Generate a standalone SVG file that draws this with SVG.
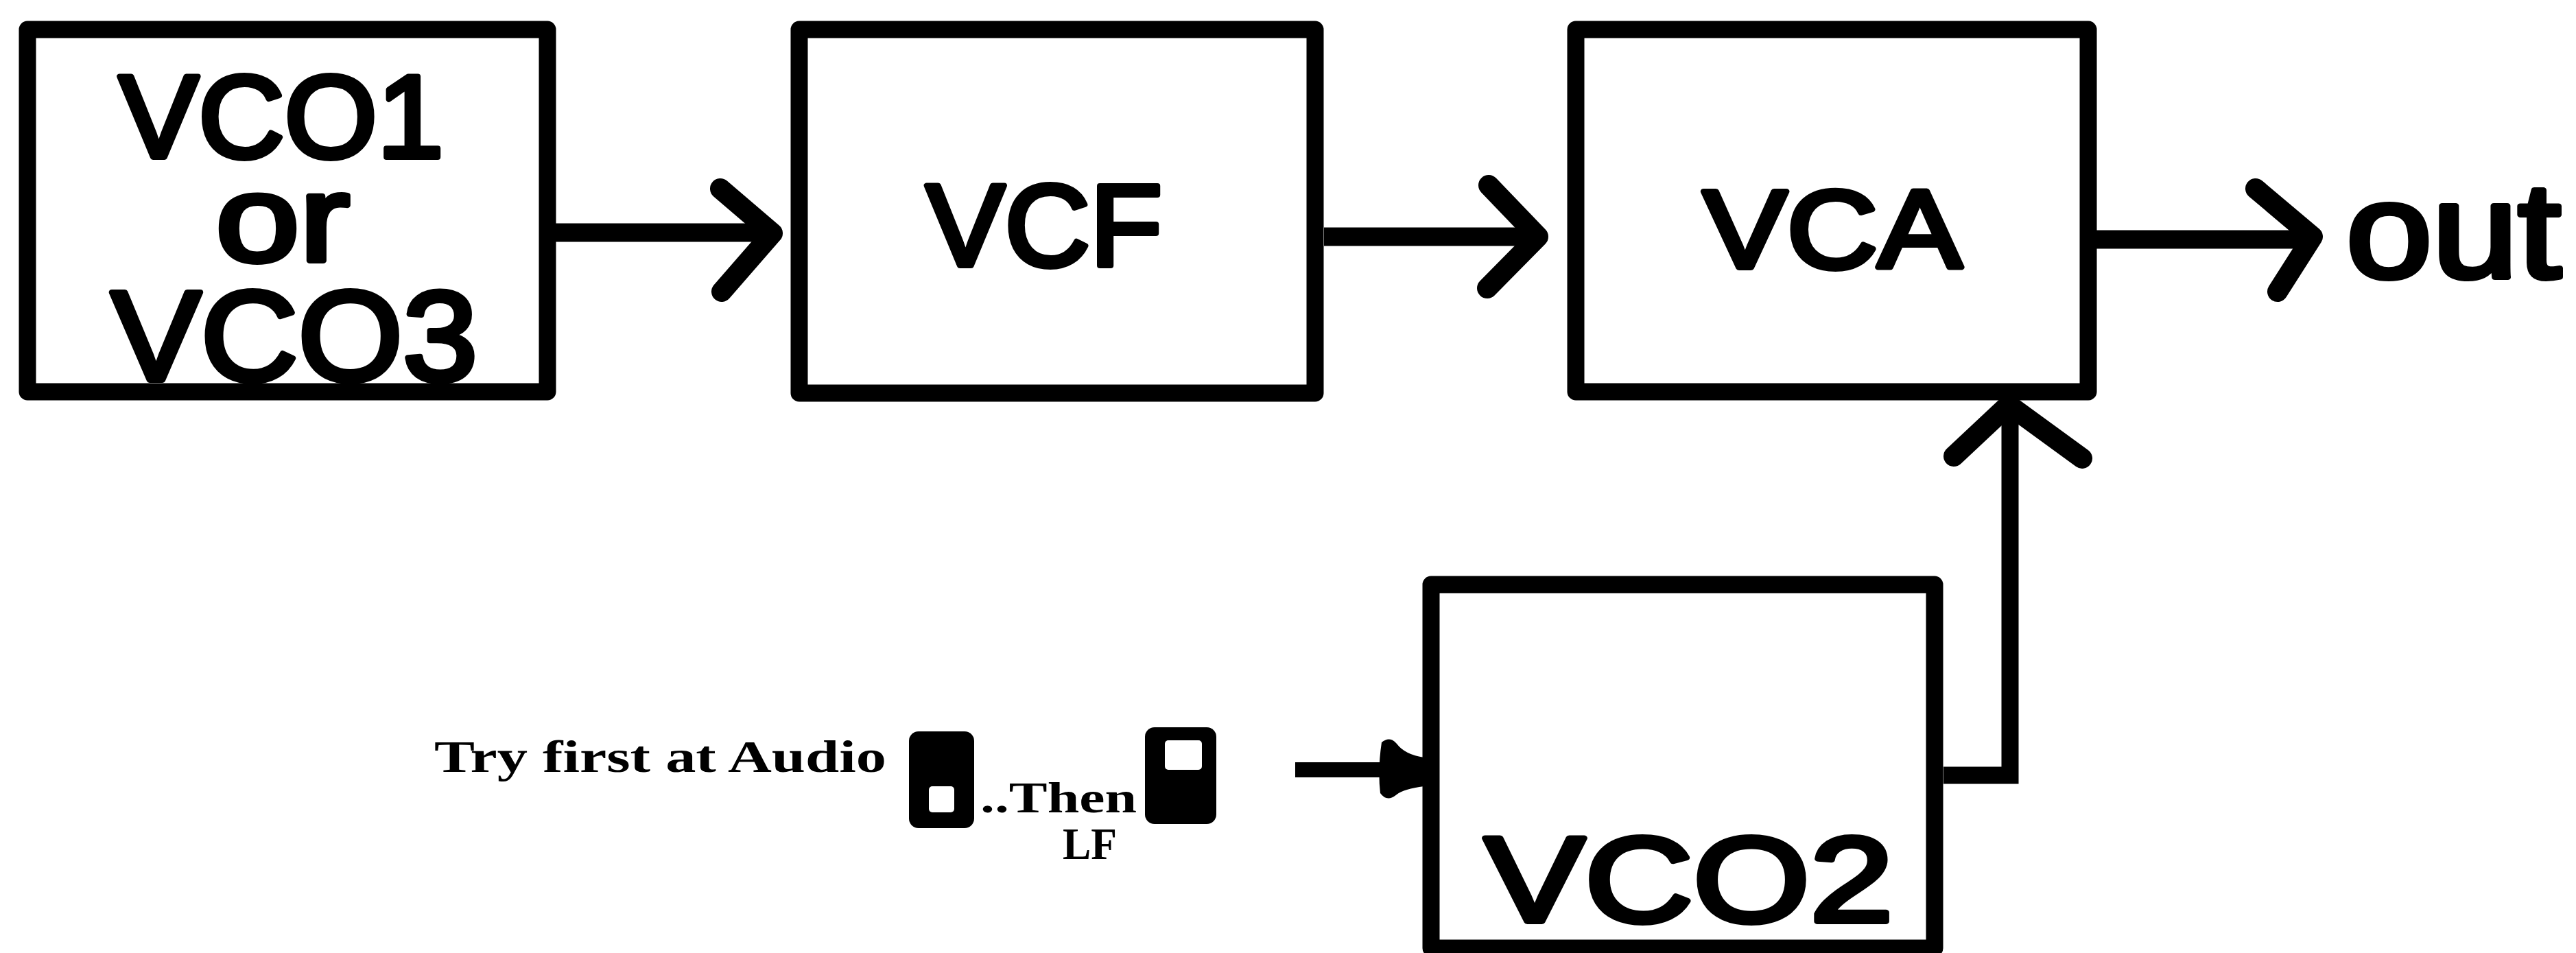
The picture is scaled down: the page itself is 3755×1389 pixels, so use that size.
<svg xmlns="http://www.w3.org/2000/svg" width="3755" height="1389" viewBox="0 0 3755 1389">
<style>
.box{fill:none;stroke:#000;stroke-width:25;stroke-linejoin:round}
.lbl{font-family:"Liberation Sans","DejaVu Sans",sans-serif;font-weight:normal;fill:#000;stroke:#000;stroke-width:8;stroke-linejoin:round}
.wire{fill:none;stroke:#000;stroke-width:27;stroke-linecap:butt;stroke-linejoin:miter}
.chev{fill:none;stroke:#000;stroke-width:30;stroke-linecap:round;stroke-linejoin:round}
.note{font-family:"Liberation Serif","DejaVu Serif",serif;font-weight:bold;fill:#000}
</style>
<rect width="3755" height="1389" fill="#fff"/>
<g id="vco1">
<rect class="box" x="40" y="43" width="758" height="528"/>
<text class="lbl" text-anchor="middle"><tspan x="410" y="229" font-size="170" textLength="473" lengthAdjust="spacingAndGlyphs">VCO1</tspan><tspan x="412" y="380" font-size="178" textLength="195" lengthAdjust="spacingAndGlyphs">or</tspan><tspan x="429" y="554" font-size="186" textLength="534" lengthAdjust="spacingAndGlyphs">VCO3</tspan></text>
</g>
<g id="vcf">
<rect class="box" x="1165" y="43" width="752" height="530"/>
<text class="lbl" x="1522" y="387" font-size="168" text-anchor="middle" textLength="344" lengthAdjust="spacingAndGlyphs">VCF</text>
</g>
<g id="vca">
<rect class="box" x="2297" y="43" width="747" height="528"/>
<text class="lbl" x="2671" y="390" font-size="162" text-anchor="middle" textLength="377" lengthAdjust="spacingAndGlyphs">VCA</text>
</g>
<g id="vco2">
<rect class="box" x="2086" y="852" width="734" height="530"/>
<text class="lbl" x="2462" y="1343" font-size="176" text-anchor="middle" textLength="596" lengthAdjust="spacingAndGlyphs">VCO2</text>
</g>
<g id="out">
<text class="lbl" x="3420" y="404" font-size="196" textLength="313" lengthAdjust="spacingAndGlyphs">out</text>
</g>
<g id="switch-note">
<text class="note" x="633" y="1125" font-size="65" textLength="659" lengthAdjust="spacingAndGlyphs">Try first at Audio</text>
<rect x="1325" y="1066" width="95" height="141" rx="14" fill="#000"/>
<rect x="1354" y="1146" width="37" height="38" rx="5" fill="#fff"/>
<text class="note" x="1429" y="1184" font-size="63" textLength="228" lengthAdjust="spacingAndGlyphs">..Then</text>
<rect x="1669" y="1060" width="104" height="141" rx="14" fill="#000"/>
<rect x="1698" y="1079" width="54" height="43" rx="5" fill="#fff"/>
<text class="note" x="1549" y="1252" font-size="66" textLength="79" lengthAdjust="spacingAndGlyphs">LF</text>
</g>
<g id="connectors">
<line class="wire" x1="808" y1="339" x2="1130" y2="339"/>
<polyline class="chev" points="1050,275 1126,340 1052,425"/>
<line class="wire" x1="1930" y1="345" x2="2240" y2="345"/>
<polyline class="chev" points="2170,270 2242,345 2168,420"/>
<line class="wire" x1="3056" y1="349" x2="3370" y2="349"/>
<polyline class="chev" points="3288,275 3371,345 3320,425"/>
<polyline class="wire" points="2833,1130 2930,1130 2930,575" style="stroke-width:25"/>
<polyline class="chev" points="2848,665 2928,590 3035,668"/>
<line class="wire" x1="1888" y1="1122" x2="2030" y2="1122" style="stroke-width:22"/>
<path d="M2014,1082 Q2026,1072 2036,1084 Q2048,1100 2076,1104 L2076,1146 Q2046,1150 2036,1158 Q2022,1170 2012,1156 Q2008,1122 2014,1082 Z" fill="#000"/>
</g>
</svg>
